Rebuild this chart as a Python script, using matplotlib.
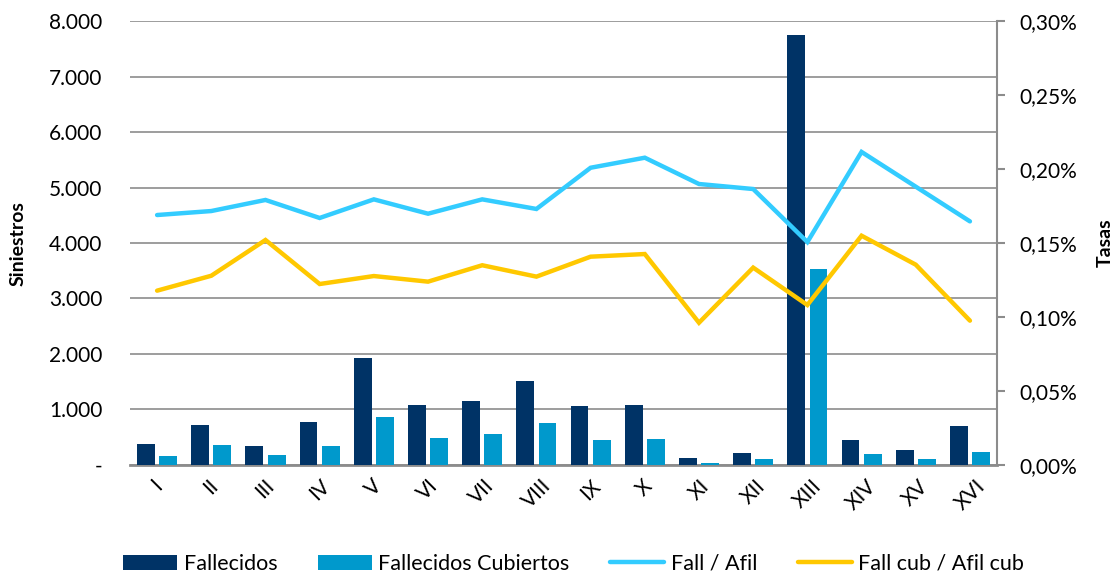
import numpy as np
import matplotlib
matplotlib.use('Agg')
import matplotlib.pyplot as plt
from matplotlib.ticker import FuncFormatter, MultipleLocator

plt.rcParams['font.family'] = ['Lato', 'DejaVu Sans']

# datos
regiones = ['I', 'II', 'III', 'IV', 'V', 'VI', 'VII', 'VIII', 'IX', 'X',
            'XI', 'XII', 'XIII', 'XIV', 'XV', 'XVI']
fallecidos = [373, 722, 337, 765, 1926, 1072, 1155, 1505, 1054, 1077,
              121, 217, 7765, 446, 260, 698]
fallecidos_cub = [158, 355, 180, 337, 855, 482, 548, 747, 440, 469,
                  36, 103, 3527, 193, 108, 224]
fall_afil = [0.169, 0.1717, 0.1792, 0.167, 0.1796, 0.1699, 0.1796, 0.1731,
             0.201, 0.2078, 0.19, 0.1866, 0.1507, 0.2117, 0.1882, 0.1647]
fallcub_afilcub = [0.1178, 0.1279, 0.1521, 0.1223, 0.1277, 0.1239, 0.135, 0.1273,
                   0.1408, 0.1426, 0.0961, 0.1334, 0.1081, 0.155, 0.1354, 0.0975]

c_dark = '#003366'
c_light = '#0099cc'
c_l1 = '#33ccff'
c_l2 = '#ffc800'
c_grid = '#8c8c8c'

fig, ax = plt.subplots(figsize=(11.14, 5.73), dpi=100)
fig.subplots_adjust(left=0.1167, right=0.895, top=0.9625, bottom=0.189)

x = np.arange(len(regiones))
w = 0.33
b1 = ax.bar(x - 0.205, fallecidos, w, color=c_dark, label='Fallecidos', zorder=3)
b2 = ax.bar(x + 0.205, fallecidos_cub, w, color=c_light, label='Fallecidos Cubiertos', zorder=3)

ax.set_ylim(0, 8000)
ax.set_xlim(-0.5, len(regiones) - 0.5)
ax.yaxis.set_major_locator(MultipleLocator(1000))
ax.yaxis.set_major_formatter(FuncFormatter(
    lambda v, p: '-' if v == 0 else f'{int(v):,}'.replace(',', '.')))
ax.grid(axis='y', color=c_grid, linewidth=1.2, zorder=0)
ax.set_axisbelow(True)
for s in ['top', 'right', 'left']:
    ax.spines[s].set_visible(False)
ax.spines['bottom'].set_color(c_grid)
ax.spines['bottom'].set_linewidth(2)
ax.tick_params(axis='y', length=0, labelsize=15, pad=20)
ax.tick_params(axis='x', length=0, labelsize=15, pad=8)
ax.set_xticks(x)
ax.set_xticklabels(regiones, rotation=45, ha='center', va='top')
ax.set_ylabel('Siniestros', fontsize=14, fontweight='bold', labelpad=16)

ax2 = ax.twinx()
l1, = ax2.plot(x, fall_afil, color=c_l1, linewidth=3.2, solid_capstyle='round',
               solid_joinstyle='miter', label='Fall / Afil', zorder=4)
l2, = ax2.plot(x, fallcub_afilcub, color=c_l2, linewidth=3.2, solid_capstyle='round',
               solid_joinstyle='miter', label='Fall cub / Afil cub', zorder=4)
ax2.set_ylim(0, 0.30)
ax2.yaxis.set_major_locator(MultipleLocator(0.05))
ax2.yaxis.set_major_formatter(FuncFormatter(lambda v, p: f'{v:.2f}%'.replace('.', ',')))
for s in ['top', 'left', 'bottom']:
    ax2.spines[s].set_visible(False)
ax2.spines['right'].set_color(c_grid)
ax2.spines['right'].set_linewidth(1.5)
ax2.tick_params(axis='y', length=6, width=1.5, color=c_grid, labelsize=15, pad=10)
ax2.set_ylabel('Tasas', fontsize=14, fontweight='bold', labelpad=14)

fig.legend(handles=[b1, b2, l1, l2], loc='lower center', bbox_to_anchor=(0.515, -0.035),
           ncol=4, frameon=False, fontsize=15.5, handlelength=2.5, handletextpad=0.3,
           columnspacing=1.9)

fig.savefig('out.png', dpi=100)
